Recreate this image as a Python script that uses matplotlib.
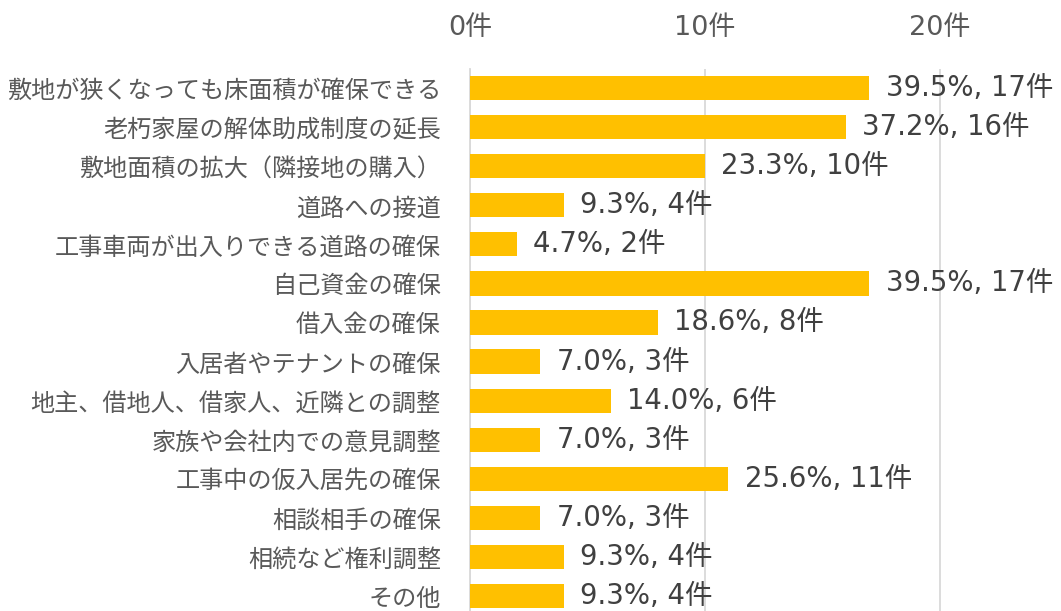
import matplotlib
matplotlib.use("Agg")
import matplotlib.pyplot as plt

plt.rcParams['font.family'] = ['Noto Sans CJK JP', 'DejaVu Sans']

categories = [
    "敷地が狭くなっても床面積が確保できる",
    "老朽家屋の解体助成制度の延長",
    "敷地面積の拡大（隣接地の購入）",
    "道路への接道",
    "工事車両が出入りできる道路の確保",
    "自己資金の確保",
    "借入金の確保",
    "入居者やテナントの確保",
    "地主、借地人、借家人、近隣との調整",
    "家族や会社内での意見調整",
    "工事中の仮入居先の確保",
    "相談相手の確保",
    "相続など権利調整",
    "その他",
]
counts = [17, 16, 10, 4, 2, 17, 8, 3, 6, 3, 11, 3, 4, 4]
percents = [39.5, 37.2, 23.3, 9.3, 4.7, 39.5, 18.6, 7.0, 14.0, 7.0, 25.6, 7.0, 9.3, 9.3]
xticks = [0, 10, 20]
xtick_labels = ["0件", "10件", "20件"]

W, H = 1061, 611
fig = plt.figure(figsize=(W / 100, H / 100), dpi=100)
left, right = 470, 1057
top, bottom = 68.5, 611
ax = fig.add_axes([left / W, 1 - bottom / H, (right - left) / W, (bottom - top) / H])

text_color = "#595959"
bar_color = "#FFC000"
num_family = ['DejaVu Sans', 'Noto Sans CJK JP']

y = list(range(len(categories)))
ax.barh(y, counts, height=0.62, color=bar_color, zorder=3)

for yi, c, p in zip(y, counts, percents):
    ax.text(c + 0.7, yi, f"{p:.1f}%, {c}件", va="center", ha="left",
            fontsize=19.8, color="#404040", family=num_family, zorder=4)

ax.set_xlim(0, 25)
ax.set_ylim(13 + 15 / 39.1, -0.5)
ax.set_yticks(y)
ax.set_yticklabels(categories, fontsize=17.4, color=text_color)
ax.set_xticks(xticks)
ax.set_xticklabels(xtick_labels, fontsize=19.5, color=text_color, family=num_family)
ax.xaxis.tick_top()
ax.tick_params(axis='x', length=0, pad=20)
ax.tick_params(axis='y', length=0, pad=21)
ax.grid(axis='x', color="#D9D9D9", linewidth=1.3, zorder=0)
for s in ["top", "right", "bottom"]:
    ax.spines[s].set_visible(False)
ax.spines["left"].set_color("#D9D9D9")
ax.spines["left"].set_linewidth(1.3)

fig.savefig("out.png", dpi=100)
